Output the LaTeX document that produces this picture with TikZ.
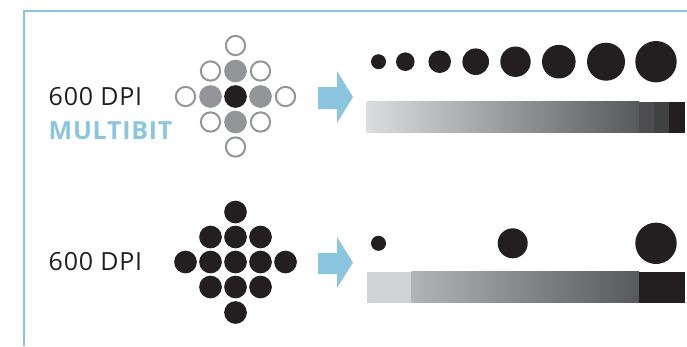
\documentclass[tikz,border=0pt]{standalone}
\usepackage{fontspec}
\setmainfont{Open Sans}[LetterSpace=3]
\definecolor{lblue}{HTML}{8CC5DE}
\definecolor{ink}{HTML}{231F20}
\definecolor{midgray}{HTML}{939598}
\definecolor{barA}{HTML}{DCDDDF}
\definecolor{barB}{HTML}{58595B}
\definecolor{barC}{HTML}{4D4D4F}
\definecolor{barD}{HTML}{414142}
\definecolor{barE}{HTML}{D1D3D4}
\definecolor{barF}{HTML}{B1B3B6}
\begin{document}
\begin{tikzpicture}[x=1pt,y=-1pt,
  opendot/.style={circle, draw=midgray, line width=2pt, fill=white, minimum size=19.3pt, inner sep=0pt},
  graydot/.style={circle, fill=midgray, minimum size=22.7pt, inner sep=0pt},
  inkdot/.style={circle, fill=ink, minimum size=22.7pt, inner sep=0pt},
  sdot/.style={circle, fill=ink, minimum size=#1, inner sep=0pt},
  label/.style={anchor=base west, inner sep=0pt, font=\fontsize{25}{29}\selectfont, text=ink},
  bluearrow/.style={fill=lblue}
]
\useasboundingbox (0,0) rectangle (687,346);
% frame
\draw[lblue, line width=2.8pt] (687,11) -- (24,11) -- (24,346);

% top labels
\node[label] (t1) at (48.5,105) {600 DPI};
\node[label, text=lblue, font=\fontsize{25}{29}\selectfont\bfseries] (t2) at (48.5,139) {MULTIBIT};

% top diamond
\node[opendot] (a0) at (235.5,45.5) {};
\node[opendot] (a1) at (210.5,71) {};
\node[graydot] (a2) at (235.5,71) {};
\node[opendot] (a3) at (260.5,71) {};
\node[opendot] (a4) at (185.5,96.5) {};
\node[graydot] (a5) at (210.5,96.5) {};
\node[inkdot]  (a6) at (235.5,96.5) {};
\node[graydot] (a7) at (260.5,96.5) {};
\node[opendot] (a8) at (285.5,96.5) {};
\node[opendot] (a9) at (210.5,122) {};
\node[graydot] (a10) at (235.5,122) {};
\node[opendot] (a11) at (260.5,122) {};
\node[opendot] (a12) at (235.5,147) {};

% top arrow
\fill[bluearrow] (318,87) -- (337,87) -- (337,71) -- (353,97) -- (337,123) -- (337,109) -- (318,109) -- cycle;

% top dots
\node[sdot=15pt]   (d1) at (378.5,61.7) {};
\node[sdot=18.6pt] (d2) at (405.3,61.7) {};
\node[sdot=22.6pt] (d3) at (439.7,61.7) {};
\node[sdot=26.6pt] (d4) at (475.7,61.7) {};
\node[sdot=30.4pt] (d5) at (515.5,61.7) {};
\node[sdot=33.6pt] (d6) at (558.8,61.7) {};
\node[sdot=38pt]   (d7) at (606,61.7) {};
\node[sdot=41.4pt] (d8) at (656,61.7) {};

% top bar
\shade[left color=barA, right color=barB] (366.7,101.7) rectangle (639,132.7);
\fill[barC] (639,101.7) rectangle (654,132.7);
\fill[barD] (654,101.7) rectangle (669,132.7);
\fill[ink] (669,101.7) rectangle (685,132.7);

% bottom label
\node[label] (t3) at (48.5,270) {600 DPI};

% bottom diamond
\node[inkdot] (b0) at (235.5,212) {};
\node[inkdot] (b1) at (210.5,237) {};
\node[inkdot] (b2) at (235.5,237) {};
\node[inkdot] (b3) at (260.5,237) {};
\node[inkdot] (b4) at (185.5,262) {};
\node[inkdot] (b5) at (210.5,262) {};
\node[inkdot] (b6) at (235.5,262) {};
\node[inkdot] (b7) at (260.5,262) {};
\node[inkdot] (b8) at (285.5,262) {};
\node[inkdot] (b9) at (210.5,287) {};
\node[inkdot] (b10) at (235.5,287) {};
\node[inkdot] (b11) at (260.5,287) {};
\node[inkdot] (b12) at (235.5,312.5) {};

% bottom arrow
\fill[bluearrow] (318,253) -- (337,253) -- (337,237) -- (353,262.5) -- (337,288) -- (337,274) -- (318,274) -- cycle;

% bottom dots
\node[sdot=15pt]   (e1) at (378.5,243.3) {};
\node[sdot=30pt]   (e2) at (512.7,243.3) {};
\node[sdot=41.4pt] (e3) at (656,243.3) {};

% bottom bar
\fill[barE] (366.7,271.7) rectangle (411.7,302.7);
\shade[left color=barF, right color=barB] (411.7,271.7) rectangle (639,302.7);
\fill[ink] (639,271.7) rectangle (685,302.7);
\end{tikzpicture}
\end{document}
